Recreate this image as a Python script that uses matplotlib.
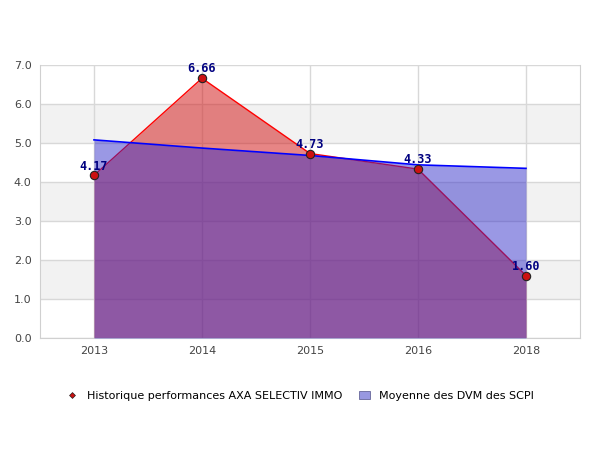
import numpy as np
import matplotlib.pyplot as plt
from matplotlib.lines import Line2D
from matplotlib.patches import Patch

years = ['2013', '2014', '2015', '2016', '2018']
perf = [4.17, 6.66, 4.73, 4.33, 1.60]
moyenne = [5.08, 4.87, 4.68, 4.44, 4.35]

x = np.arange(len(years))

fig = plt.figure(figsize=(6, 4.5), dpi=100)
ax = fig.add_axes([40 / 600, 1 - 338 / 450, 540 / 600, 273 / 450])

# alternating bands
for lo in [1, 3, 5]:
    ax.axhspan(lo, lo + 1, color='#f2f2f2', zorder=0, lw=0)
ax.set_axisbelow(True)
ax.grid(True, color='#d8d8d8', lw=1)

ax.fill_between(x, perf, 0, color=(0.82, 0.05, 0.05), alpha=0.5, lw=0, zorder=2)
ax.plot(x, perf, color='red', lw=1, zorder=3)
ax.fill_between(x, moyenne, 0, color=(45 / 255, 40 / 255, 200 / 255), alpha=0.48, lw=0, zorder=4)
ax.plot(x, moyenne, color='blue', lw=1.2, zorder=5)
ax.plot(x, perf, 'o', color='#cc1111', mec='#222222', mew=0.8, ms=6, zorder=6)

for xi, v in zip(x, perf):
    ax.annotate('%.2f' % v, (xi, v), xytext=(0, 2), textcoords='offset points',
                ha='center', va='bottom', fontsize=8.5, fontweight='bold',
                family='DejaVu Sans Mono', color='#000080', zorder=7)

ax.set_xlim(-0.5, 4.5)
ax.set_ylim(0, 7)
ax.set_xticks(x)
ax.set_xticklabels(years)
ax.set_yticks(range(8))
ax.set_yticklabels(['%.1f' % v for v in range(8)])
ax.tick_params(length=0, labelsize=8, colors='#444444', pad=6)
for s in ['left', 'bottom', 'right']:
    ax.spines[s].set_color('#d0d0d0')
ax.spines['top'].set_visible(False)

handles = [
    Line2D([], [], marker='D', color='#cc1111', mec='#222222', mew=0.5, ms=3, ls='none'),
    Patch(facecolor='#9898e0', edgecolor='#666699', lw=0.6),
]
fig.legend(handles, ['Historique performances AXA SELECTIV IMMO', 'Moyenne des DVM des SCPI'],
           loc='center', bbox_to_anchor=(0.5, 1 - 396 / 450), ncol=2, frameon=False,
           fontsize=8, handlelength=1, handleheight=0.7, columnspacing=1.5)

fig.savefig('out.png', dpi=100)
